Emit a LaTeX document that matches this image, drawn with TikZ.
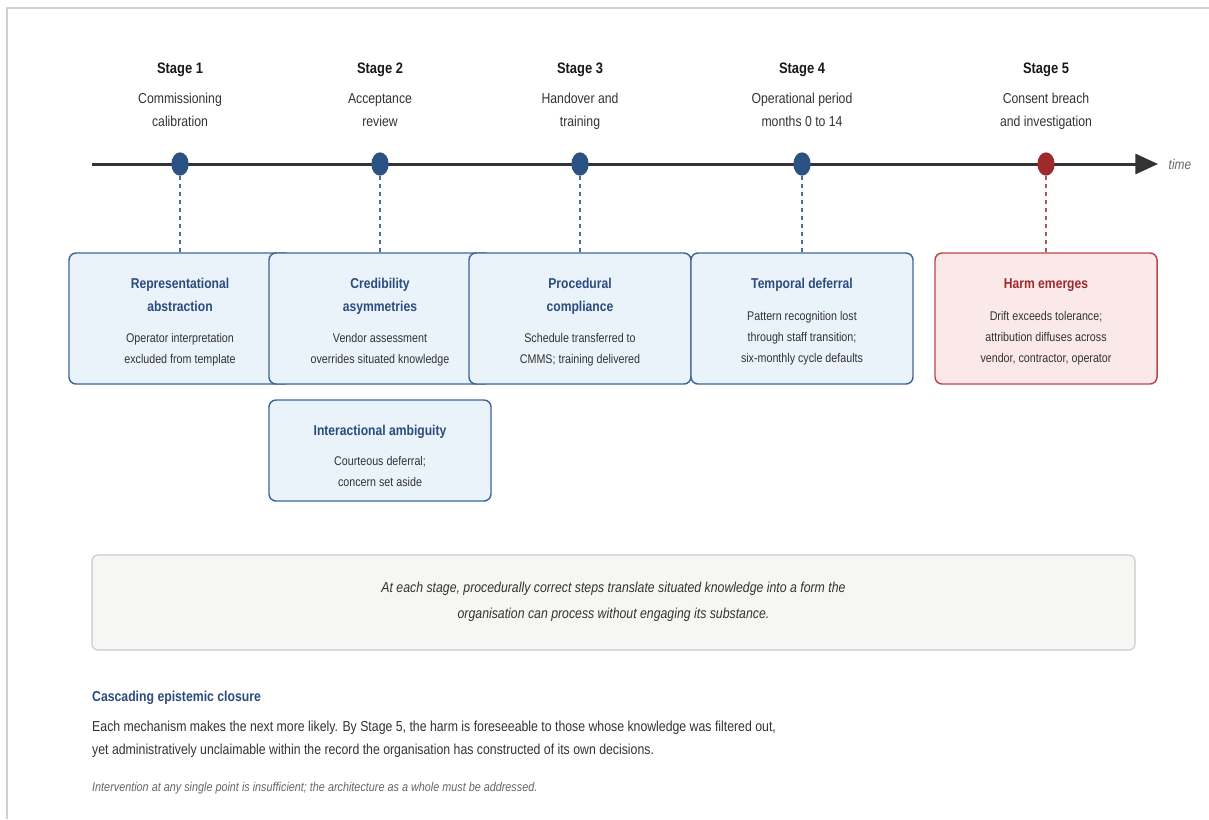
\documentclass[tikz,border=0pt]{standalone}
\usepackage{fontspec}
\setmainfont{Liberation Sans}[FakeStretch=0.85]
\usetikzlibrary{arrows.meta,shapes.geometric}
\definecolor{inkblue}{HTML}{2B4C7E}
\definecolor{dotblue}{HTML}{2C5183}
\definecolor{boxline}{HTML}{3E6597}
\definecolor{boxfill}{HTML}{EAF2FA}
\definecolor{harmred}{HTML}{9E2A2B}
\definecolor{harmline}{HTML}{B8464A}
\definecolor{harmfill}{HTML}{FBE9E9}
\definecolor{bodygrey}{HTML}{333333}
\definecolor{notegrey}{HTML}{666666}
\definecolor{notefill}{HTML}{F6F6F4}
\definecolor{noteline}{HTML}{C8C8C8}
\definecolor{framegrey}{HTML}{D0D0D0}

\begin{document}
\begin{tikzpicture}[x=0.75pt,y=-0.75pt,
		stagetitle/.style={font=\fontsize{11.4}{14}\selectfont\bfseries,text=black!90},
		stagesub/.style={font=\fontsize{10.8}{17.25}\selectfont,text=bodygrey,align=center},
		dot/.style={ellipse,fill=dotblue,minimum width=13pt,minimum height=17.5pt,inner sep=0pt},
		reddot/.style={dot,fill=harmred},
		mechbox/.style={draw=boxline,fill=boxfill,line width=1.1pt,rounded corners=5.25pt,minimum width=166.5pt,minimum height=98.25pt},
		harmbox/.style={mechbox,draw=harmline,fill=harmfill},
		mechtitle/.style={font=\fontsize{10.7}{17.25}\selectfont\bfseries,text=inkblue,align=center},
		harmtitle/.style={mechtitle,text=harmred},
		mechbody/.style={font=\fontsize{9.45}{15.75}\selectfont,text=bodygrey,align=center},
		tick/.style={dotblue!85,line width=0.8pt,dash pattern=on 3pt off 3pt},
		redtick/.style={tick,harmred!80}
	]
	\useasboundingbox (0,0) rectangle (1209,819);
	\draw[framegrey,line width=1.1pt] (7,819) -- (7,8) -- (1209,8);

	\coordinate (t0) at (92,164);
	\coordinate (t1) at (1158,164);
	\draw[black!80,line width=2.25pt,-{Triangle[length=17pt,width=15pt]}] (t0) -- (t1);
	\node[anchor=west,font=\fontsize{10.5}{12}\selectfont\itshape,text=notegrey] (time) at (1164,164) {time};

	\node[stagetitle] (s1) at (180,70) {Stage 1};
	\node[stagetitle] (s2) at (380,70) {Stage 2};
	\node[stagetitle] (s3) at (580,70) {Stage 3};
	\node[stagetitle] (s4) at (802,70) {Stage 4};
	\node[stagetitle] (s5) at (1046,70) {Stage 5};
	\node[stagesub] (u1) at (180,109.5) {Commissioning\\calibration};
	\node[stagesub] (u2) at (380,110.5) {Acceptance\\review};
	\node[stagesub] (u3) at (580,111.5) {Handover and\\training};
	\node[stagesub] (u4) at (802,109.5) {Operational period\\months 0 to 14};
	\node[stagesub] (u5) at (1046,111.5) {Consent breach\\and investigation};

	\node[dot] (d1) at (180,164) {};
	\node[dot] (d2) at (380,164) {};
	\node[dot] (d3) at (580,164) {};
	\node[dot] (d4) at (802,164) {};
	\node[reddot] (d5) at (1046,164) {};

	\node[mechbox] (b1) at (180,318.5) {};
	\node[mechbox] (b2) at (380,318.5) {};
	\node[mechbox] (b3) at (580,318.5) {};
	\node[mechbox] (b4) at (802,318.5) {};
	\node[harmbox] (b5) at (1046,318.5) {};
	\node[mechbox,minimum height=75.75pt] (b6) at (380,450.5) {};

	\draw[tick] (d1) -- (b1);
	\draw[tick] (d2) -- (b2);
	\draw[tick] (d3) -- (b3);
	\draw[tick] (d4) -- (b4);
	\draw[redtick] (d5) -- (b5);

	\node[mechtitle] (h1) at (180,294.5) {Representational\\abstraction};
	\node[mechbody] (p1) at (180,349.5) {Operator interpretation\\excluded from template};
	\node[mechtitle] (h2) at (380,296.5) {Credibility\\asymmetries};
	\node[mechbody] (p2) at (380,349.5) {Vendor assessment\\overrides situated knowledge};
	\node[mechtitle] (h3) at (580,296.5) {Procedural\\compliance};
	\node[mechbody] (p3) at (580,349.5) {Schedule transferred to\\CMMS; training delivered};
	\node[mechtitle] (h4) at (802,285) {Temporal deferral};
	\node[mechbody] (p4) at (802,338) {Pattern recognition lost\\through staff transition;\\six-monthly cycle defaults};
	\node[harmtitle] (h5) at (1046,285) {Harm emerges};
	\node[mechbody] (p5) at (1046,338) {Drift exceeds tolerance;\\attribution diffuses across\\vendor, contractor, operator};
	\node[mechtitle] (h6) at (380,432) {Interactional ambiguity};
	\node[mechbody] (p6) at (380,471.5) {Courteous deferral;\\concern set aside};

	\node[draw=noteline,fill=notefill,line width=0.8pt,rounded corners=4.5pt,minimum width=782.25pt,minimum height=71.25pt] (summary) at (613.5,602.5) {};
	\node[font=\fontsize{10.85}{19.5}\selectfont\itshape,text=bodygrey,align=center] (summarytext) at (613.5,602) {At each stage, procedurally correct steps translate situated knowledge into a form the\\organisation can process without engaging its substance.};

	\node[anchor=west,font=\fontsize{10.8}{12}\selectfont\bfseries,text=inkblue] (closure) at (87.5,698) {Cascading epistemic closure};
	\node[anchor=west,font=\fontsize{10.85}{17.25}\selectfont,text=bodygrey,align=left] (closuretext) at (87.5,739.5) {Each mechanism makes the next more likely. By Stage 5, the harm is foreseeable to those whose knowledge was filtered out,\\yet administratively unclaimable within the record the organisation has constructed of its own decisions.};
	\node[anchor=west,font=\fontsize{9.55}{11}\selectfont\itshape,text=notegrey] (closurenote) at (87.5,788) {Intervention at any single point is insufficient; the architecture as a whole must be addressed.};
\end{tikzpicture}
\end{document}
